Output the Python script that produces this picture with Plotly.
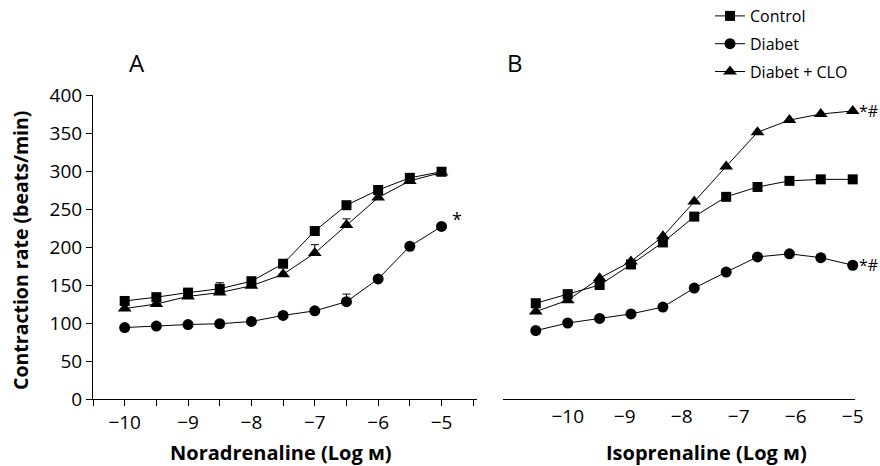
import plotly.graph_objects as go

# ---------------- data ----------------
# Panel A: Noradrenaline (log M)
na_x = [-10.0, -9.5, -9.0, -8.5, -8.0, -7.5, -7.0, -6.5, -6.0, -5.5, -5.0]
na_control = [129, 134, 140, 145, 155, 178, 221, 255, 275, 291, 299]
na_control_err = [0, 0, 3, 8, 2, 0, 0, 0, 0, 0, 0]
na_diabet = [94, 96, 98, 99, 102, 110, 116, 128, 158, 201, 227]
na_diabet_err = [0, 0, 0, 0, 0, 0, 0, 10, 0, 0, 0]
na_clo = [119, 125, 135, 140, 149, 164, 192, 229, 265, 287, 298]
na_clo_err = [0, 0, 0, 0, 0, 0, 11, 8, 0, 0, 0]

# Panel B: Isoprenaline (log M)
iso_x = [-10.56, -10.0, -9.44, -8.89, -8.33, -7.78, -7.22, -6.67, -6.11, -5.56, -5.0]
iso_ticks = [-11.11, -10.56, -10.0, -9.44, -8.89, -8.33, -7.78, -7.22, -6.67, -6.11, -5.56, -5.0]
iso_control = [126, 138, 150, 177, 206, 240, 266, 279, 287, 289, 289]
iso_diabet = [90, 100, 106, 112, 121, 146, 167, 187, 191, 186, 176]
iso_clo = [115, 130, 159, 181, 214, 260, 306, 351, 367, 375, 379]

a_tickvals = [-10.5, -10.0, -9.5, -9.0, -8.5, -8.0, -7.5, -7.0, -6.5, -6.0, -5.5, -5.0, -4.5]
a_ticktext = ["", "\u221210", "", "\u22129", "", "\u22128", "", "\u22127", "", "\u22126", "", "\u22125", ""]
b_tickvals = [-10, -9, -8, -7, -6, -5]
b_ticktext = ["\u221210", "\u22129", "\u22128", "\u22127", "\u22126", "\u22125"]
y_tickvals = [0, 50, 100, 150, 200, 250, 300, 350, 400]

series = [
    ("Control", "square", 10, na_control, na_control_err, iso_control),
    ("Diabet", "circle", 11, na_diabet, na_diabet_err, iso_diabet),
    ("Diabet + CLO", "triangle-up", 12, na_clo, na_clo_err, iso_clo),
]

FONT = "Open Sans, Noto Sans, Arial, sans-serif"
W, H = 880, 466

def px_x(p):
    return p / W

def px_y(p):
    return 1 - p / H

fig = go.Figure()
for i, (name, sym, size, a_vals, a_err, b_vals) in enumerate(series):
    fig.add_trace(go.Scatter(
        x=na_x, y=a_vals, mode="lines+markers", name=name,
        legendgroup=f"g{i}",
        line=dict(color="black", width=1),
        marker=dict(symbol=sym, size=size, color="black"),
        error_y=dict(type="data", array=a_err, arrayminus=[0] * len(a_err),
                     symmetric=False, width=4, thickness=1, color="black"),
        xaxis="x", yaxis="y", cliponaxis=False,
    ))
    fig.add_trace(go.Scatter(
        x=iso_x, y=b_vals, mode="lines+markers", name=name,
        legendgroup=f"g{i}", showlegend=False,
        line=dict(color="black", width=1),
        marker=dict(symbol=sym, size=size, color="black"),
        xaxis="x2", yaxis="y2", cliponaxis=False,
    ))

y_dom = [px_y(399), px_y(95)]
axis_font = dict(family=FONT, size=19, color="black")

fig.update_layout(
    width=W, height=H,
    margin=dict(l=0, r=0, t=0, b=0, pad=0, autoexpand=False),
    paper_bgcolor="white", plot_bgcolor="white",
    font=dict(family=FONT, color="black"),
    showlegend=True,
    legend=dict(x=px_x(710), y=px_y(-1), xanchor="left", yanchor="top",
                font=dict(family=FONT, size=16, color="black"),
                tracegroupgap=4, bgcolor="rgba(0,0,0,0)", itemwidth=30),
    xaxis=dict(domain=[px_x(93), px_x(477)], range=[-10.5, -4.44],
               tickmode="array", tickvals=a_tickvals, ticktext=a_ticktext,
               ticks="outside", ticklen=6, tickwidth=1, tickcolor="black",
               showline=True, linecolor="black", linewidth=1,
               showgrid=False, zeroline=False, tickfont=axis_font,
               anchor="y", automargin=False),
    yaxis=dict(domain=y_dom, range=[0, 400],
               tickmode="array", tickvals=y_tickvals,
               ticks="outside", ticklen=6, tickwidth=1, tickcolor="black",
               showline=True, linecolor="black", linewidth=1,
               showgrid=False, zeroline=False, tickfont=axis_font,
               anchor="x", automargin=False),
    xaxis2=dict(domain=[px_x(503), px_x(855)], range=[-11.135, -4.96],
                tickmode="array", tickvals=b_tickvals, ticktext=b_ticktext,
                ticks="", showline=True, linecolor="black", linewidth=1,
                showgrid=False, zeroline=False, tickfont=axis_font,
                anchor="y2", automargin=False),
    xaxis3=dict(domain=[px_x(503), px_x(855)], range=[-11.135, -4.96],
                overlaying="x2", anchor="y2",
                tickmode="array", tickvals=iso_ticks,
                ticks="outside", ticklen=6, tickwidth=1, tickcolor="black",
                showticklabels=False, showline=False, showgrid=False, zeroline=False,
                automargin=False),
    yaxis2=dict(domain=y_dom, range=[0, 400], visible=False, anchor="x2",
                automargin=False),
)

ann = [
    dict(text="A", x=px_x(137), y=px_y(63), font=dict(size=24)),
    dict(text="B", x=px_x(515), y=px_y(63), font=dict(size=24)),
    dict(text="<b>Contraction rate (beats/min)</b>", x=px_x(20), y=px_y(251),
         textangle=-90, font=dict(size=19.5)),
    dict(text="<b>Noradrenaline (Log \u043c)</b>", x=px_x(281), y=px_y(452), font=dict(size=20)),
    dict(text="<b>Isoprenaline (Log \u043c)</b>", x=px_x(706), y=px_y(452), font=dict(size=20)),
]
for a in ann:
    a.update(xref="paper", yref="paper", showarrow=False,
             xanchor="center", yanchor="middle")
    a["font"] = dict(family=FONT, color="black", **a["font"])
    fig.add_annotation(**a)

# significance marks attached to data points
fig.add_annotation(x=na_x[-1], y=na_diabet[-1], xref="x", yref="y", text="*",
                   showarrow=False, xshift=15, yshift=7,
                   font=dict(family=FONT, size=18, color="black"))
fig.add_annotation(x=iso_x[-1], y=iso_clo[-1], xref="x2", yref="y2", text="*#",
                   showarrow=False, xanchor="left", xshift=4,
                   font=dict(family=FONT, size=16, color="black"))
fig.add_annotation(x=iso_x[-1], y=iso_diabet[-1], xref="x2", yref="y2", text="*#",
                   showarrow=False, xanchor="left", xshift=4,
                   font=dict(family=FONT, size=16, color="black"))

fig.write_html("out.html",
               config={"displayModeBar": False},
               post_script="document.body.style.margin='0px';document.body.style.overflow='hidden';")
